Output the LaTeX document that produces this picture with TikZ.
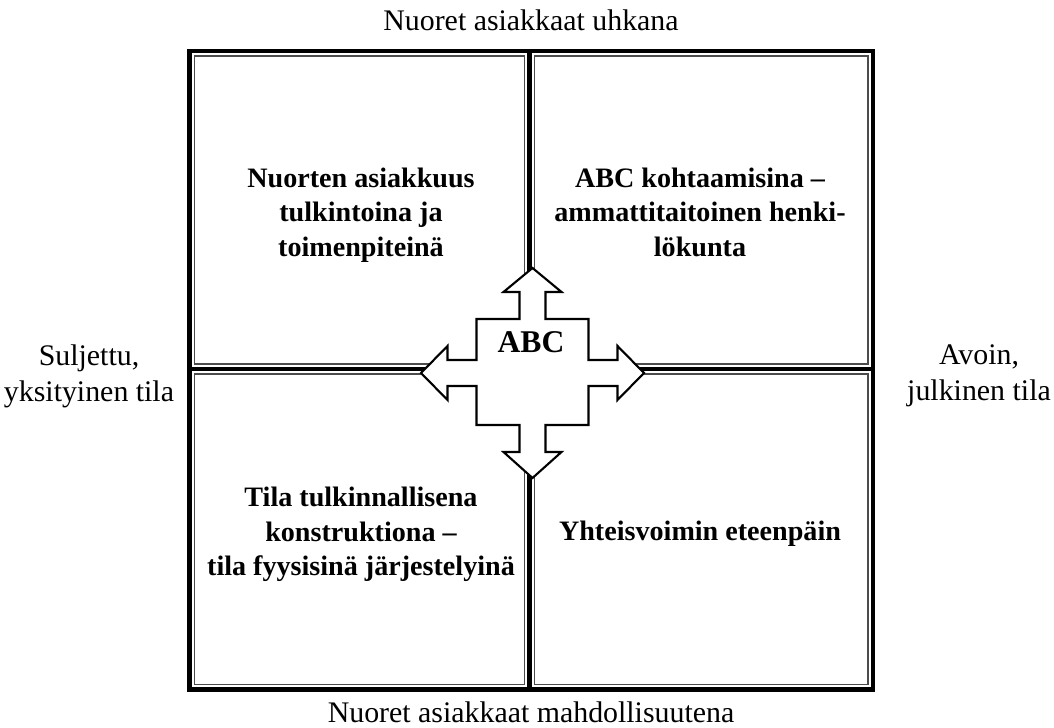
\documentclass[tikz,border=0pt]{standalone}
\usepackage{fontspec}
\setmainfont{Liberation Serif}
\usepackage{tikz}

\begin{document}
\begin{tikzpicture}[
  paksu/.style={line width=2.6pt},
  ohut/.style={line width=0.8pt, black!70},
  ruutu/.style={font=\fontsize{16}{19.6}\selectfont\bfseries, align=center},
  reuna/.style={font=\fontsize{17}{20.4}\selectfont, align=center}]
\useasboundingbox (0,0) rectangle (21.08,14.56);
% Ulkokehys ja ristikko
\draw[paksu] (3.79,0.77) rectangle (17.46,13.54);
\draw[paksu] (10.594,0.77) -- (10.594,13.54); % pystyviiva
\draw[paksu] (3.79,7.18) -- (17.46,7.18); % vaakaviiva
% Ruutujen ohuet sisäreunat
\draw[ohut] (3.89,7.28) rectangle (10.494,13.44);
\draw[ohut] (10.694,7.28) rectangle (17.36,13.44);
\draw[ohut] (3.89,0.87) rectangle (10.494,7.08);
\draw[ohut] (10.694,0.87) rectangle (17.36,7.08);
% Nelisuuntainen nuoli
\draw[line width=1.2pt, fill=white, shift={(10.65,7.1)}]
  (0,2.1) -- (0.58,1.62) -- (0.26,1.62) -- (0.26,1.08) -- (1.12,1.08)
  -- (1.12,0.26) -- (1.7,0.26) -- (1.7,0.54) -- (2.23,0) -- (1.7,-0.54)
  -- (1.7,-0.26) -- (1.12,-0.26) -- (1.12,-1.04) -- (0.26,-1.04)
  -- (0.26,-1.58) -- (0.58,-1.58) -- (0,-2.1) -- (-0.58,-1.58)
  -- (-0.26,-1.58) -- (-0.26,-1.04) -- (-1.12,-1.04) -- (-1.12,-0.26)
  -- (-1.7,-0.26) -- (-1.7,-0.54) -- (-2.23,0) -- (-1.7,0.54)
  -- (-1.7,0.26) -- (-1.12,0.26) -- (-1.12,1.08) -- (-0.26,1.08)
  -- (-0.26,1.62) -- (-0.58,1.62) -- cycle;
\node[font=\fontsize{18}{20}\selectfont\bfseries] (abc) at (10.62,7.72) {ABC};
% Ruutujen tekstit
\node[ruutu] (nw) at (7.22,10.26) {Nuorten asiakkuus\\tulkintoina ja\\toimenpiteinä};
\node[ruutu] (ne) at (14.0,10.32) {ABC kohtaamisina –\\ammattitaitoinen henki-\\lökunta};
\node[ruutu] (sw) at (7.22,3.87) {Tila tulkinnallisena\\konstruktiona –\\tila fyysisinä järjestelyinä};
\node[ruutu] (se) at (14.0,3.89) {Yhteisvoimin eteenpäin};
% Akselien päät
\node[reuna] (ylä) at (10.62,14.16) {Nuoret asiakkaat uhkana};
\node[reuna] (ala) at (10.62,0.31) {Nuoret asiakkaat mahdollisuutena};
\node[reuna] (vasen) at (1.78,7.04) {Suljettu,\\yksityinen tila};
\node[reuna] (oikea) at (19.58,7.04) {Avoin,\\julkinen tila};
\end{tikzpicture}
\end{document}
